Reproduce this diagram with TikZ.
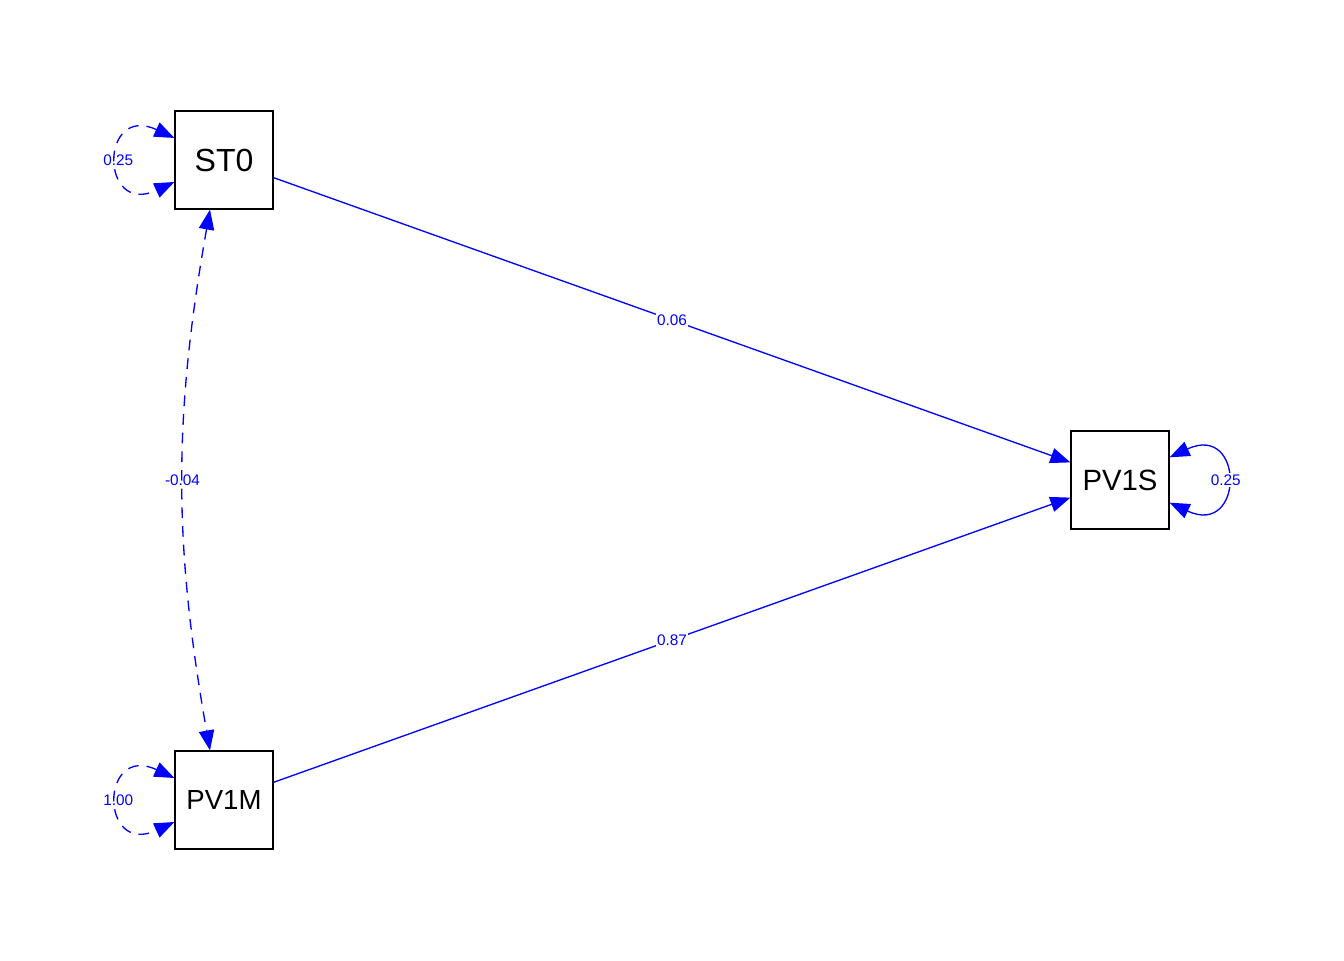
\documentclass[tikz,border=0pt]{standalone}
\usepackage{fontspec}
\setmainfont{Liberation Sans}
\usetikzlibrary{arrows.meta}
\begin{document}
\begin{tikzpicture}[x=0.75pt,y=0.75pt,
        var/.style={draw,line width=0.9pt,minimum size=73.5pt,inner sep=0pt,font=\fontsize{22}{26}\selectfont},
        reg/.style={blue,line width=1pt,-{Triangle[length=15pt,width=11.5pt]}},
        cov/.style={blue,line width=1pt,dash pattern=on 8pt off 6pt,{Triangle[length=15pt,width=11.5pt]}-{Triangle[length=15pt,width=11.5pt]}},
        est/.style={font=\fontsize{11.5}{13}\selectfont,text=blue,inner sep=1pt}]
        \useasboundingbox (0,0) rectangle (1344,960);
        \node[var,font=\fontsize{24}{28}\selectfont] (st0) at (224,800) {ST0};
        \node[var,font=\fontsize{20.7}{25}\selectfont] (pv1m) at (224,160) {PV1M};
        \node[var] (pv1s) at (1120,480) {PV1S};
        \foreach \s/\v in {st0/0.06,pv1m/0.87} {
            \draw[reg] (\s) -- node[est,fill=white,midway] {\v} (pv1s);
        }
        \draw[cov] ([xshift=-10.5pt]st0.south) to[out=-100,in=100] node[est,midway] {-0.04} ([xshift=-10.5pt]pv1m.north);
        \foreach \s/\v in {st0/0.25,pv1m/1.00} {
            \draw[cov] ([yshift=16.5pt]\s.west) .. controls +(155:62pt) and +(205:62pt) .. node[est,midway] {\v} ([yshift=-16.5pt]\s.west);
        }
        \draw[reg,{Triangle[length=15pt,width=11.5pt]}-{Triangle[length=15pt,width=11.5pt]}] ([yshift=17pt]pv1s.east) .. controls +(25:62pt) and +(-25:62pt) .. node[est,fill=white,midway] {0.25} ([yshift=-17pt]pv1s.east);
    \end{tikzpicture}
\end{document}
